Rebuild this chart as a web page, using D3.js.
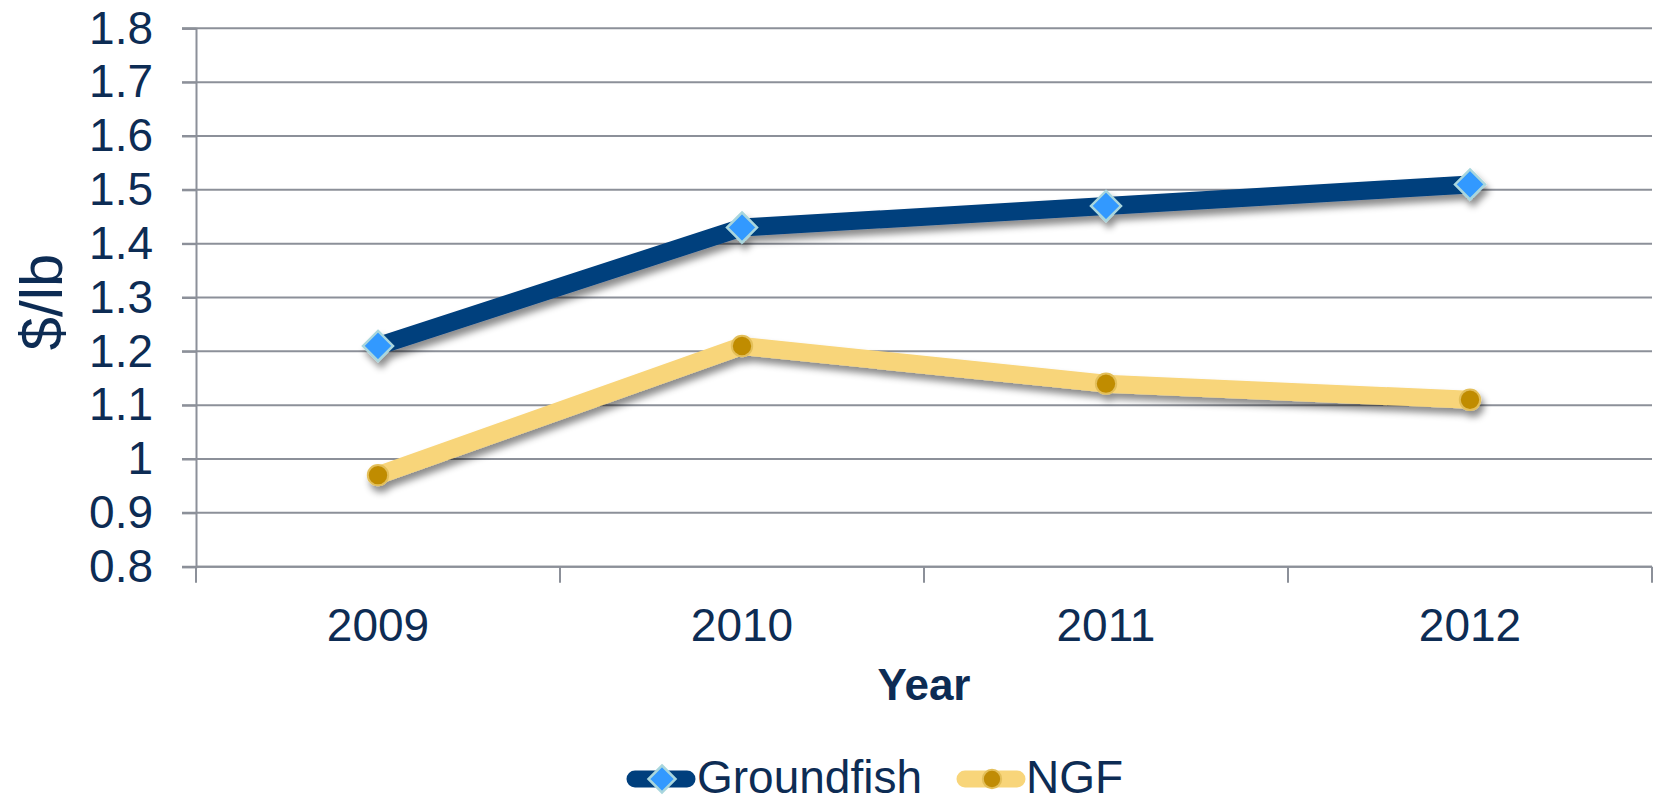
<!DOCTYPE html>
<html>
<head>
<meta charset="utf-8">
<script src="https://cdn.jsdelivr.net/npm/d3@7"></script>
<style>
  body { margin: 0; background: #fff; }
  svg { display: block; font-family: "Liberation Sans", Arial, sans-serif; }
</style>
</head>
<body>
<svg width="1660" height="801"></svg>
<script>
// Data
var years = ["2009", "2010", "2011", "2012"];
var groundfish = [1.21, 1.43, 1.47, 1.51];
var ngf = [0.97, 1.21, 1.14, 1.11];
var yTicks = [0.8, 0.9, 1, 1.1, 1.2, 1.3, 1.4, 1.5, 1.6, 1.7, 1.8];

var svg = d3.select("svg");
var textColor = "#0d2c54",
  gridColor = "#8c9099";

var plotLeft = 196, plotRight = 1652, plotTop = 28.3, plotBottom = 566.7;

var x = d3.scaleBand().domain(years).range([plotLeft, plotRight]);
var y = d3.scaleLinear().domain([0.8, 1.8]).range([plotBottom, plotTop]);

// drop shadow under lines and markers
var defs = svg.append("defs");
defs.append("filter")
    .attr("id", "shadow")
    .attr("x", "-20%").attr("y", "-20%")
    .attr("width", "140%").attr("height", "160%")
  .append("feDropShadow")
    .attr("dx", 3)
    .attr("dy", 6)
    .attr("stdDeviation", 3.5)
    .attr("flood-color", "#000")
    .attr("flood-opacity", 0.45);

// gridlines
svg.append("g")
  .selectAll("line")
  .data(yTicks)
  .enter()
  .append("line")
    .attr("x1", plotLeft - 14)
    .attr("x2", plotRight)
    .attr("y1", function(d) { return y(d); })
    .attr("y2", function(d) { return y(d); })
    .attr("stroke", gridColor)
    .attr("stroke-width", 2);

// y axis
var yAxis = svg.append("g")
  .attr("transform", "translate(" + plotLeft + ",0)")
  .call(d3.axisLeft(y).tickValues(yTicks).tickSize(14).tickPadding(29)
    .tickFormat(function(d) { return String(+d.toFixed(1)); }));
yAxis.select(".domain").attr("stroke", gridColor).attr("stroke-width", 2);
yAxis.selectAll(".tick line").attr("stroke", gridColor).attr("stroke-width", 2);
yAxis.selectAll(".tick text")
  .attr("fill", textColor)
  .style("font-size", "46px")
  .style("font-family", "'Liberation Sans', Arial, sans-serif");

// x axis: ticks at band boundaries
var bounds = years.map(function(d) { return x(d); }).concat([plotRight]);
var xAxis = svg.append("g")
  .attr("transform", "translate(0," + plotBottom + ")");
xAxis.append("line")
  .attr("x1", plotLeft).attr("x2", plotRight)
  .attr("stroke", gridColor).attr("stroke-width", 2);
xAxis.selectAll(".bt")
  .data(bounds)
  .enter()
  .append("line")
    .attr("x1", function(d) { return d; })
    .attr("x2", function(d) { return d; })
    .attr("y1", 0).attr("y2", 16)
    .attr("stroke", gridColor).attr("stroke-width", 2);
xAxis.selectAll("text")
  .data(years)
  .enter()
  .append("text")
    .attr("x", function(d) { return x(d) + x.bandwidth() / 2; })
    .attr("y", 74)
    .attr("text-anchor", "middle")
    .attr("fill", textColor)
    .style("font-size", "46px")
    .text(function(d) { return d; });

// axis titles
svg.append("text")
  .attr("x", (plotLeft + plotRight) / 2)
  .attr("y", 700)
  .attr("text-anchor", "middle")
  .attr("fill", textColor)
  .style("font-size", "44px")
  .style("font-weight", "bold")
  .text("Year");

svg.append("text")
  .attr("transform", "translate(62,302) rotate(-90)")
  .attr("text-anchor", "middle")
  .attr("fill", textColor)
  .style("font-size", "60px")
  .text("$/lb");

// series
var series = [
  { name: "Groundfish", values: groundfish, line: "#003f7d", fill: "#3399ff", stroke: "#a9d6dd", shape: "diamond" },
  { name: "NGF", values: ngf, line: "#f8d57a", fill: "#c08c06", stroke: "#e3bf5a", shape: "circle" }
];

var line = d3.line()
  .x(function(d, i) { return x(years[i]) + x.bandwidth() / 2; })
  .y(function(d) { return y(d); });

function marker(g, s, size) {
  if (s.shape === "diamond") {
    g.append("path")
      .attr("d", "M0," + (-size) + "L" + size + ",0L0," + size + "L" + (-size) + ",0Z")
      .attr("fill", s.fill)
      .attr("stroke", s.stroke)
      .attr("stroke-width", 2.5);
  } else {
    g.append("circle")
      .attr("r", size * 0.68)
      .attr("fill", s.fill)
      .attr("stroke", s.stroke)
      .attr("stroke-width", 2);
  }
}

var plot = svg.append("g").attr("filter", "url(#shadow)");
series.forEach(function(s) {
  var g = plot.append("g");
  g.append("path")
    .datum(s.values)
    .attr("d", line)
    .attr("fill", "none")
    .attr("stroke", s.line)
    .attr("stroke-width", 18)
    .attr("stroke-linejoin", "round")
    .attr("stroke-linecap", "round");
  s.values.forEach(function(v, i) {
    var m = g.append("g")
      .attr("transform", "translate(" + (x(years[i]) + x.bandwidth() / 2) + "," + y(v) + ")");
    marker(m, s, 15);
  });
});

// legend
var legendItems = [
  { s: series[0], x: 627, textX: 697 },
  { s: series[1], x: 957, textX: 1026 }
];
legendItems.forEach(function(d) {
  var g = svg.append("g").attr("transform", "translate(0,779)");
  g.append("line")
    .attr("x1", d.x + 8).attr("x2", d.x + 60)
    .attr("stroke", d.s.line)
    .attr("stroke-width", 17)
    .attr("stroke-linecap", "round");
  var m = g.append("g").attr("transform", "translate(" + (d.x + 35) + ",0)");
  marker(m, d.s, 13.5);
  g.append("text")
    .attr("x", d.textX)
    .attr("y", 14)
    .attr("fill", textColor)
    .style("font-size", "46px")
    .text(d.s.name);
});
</script>
</body>
</html>
